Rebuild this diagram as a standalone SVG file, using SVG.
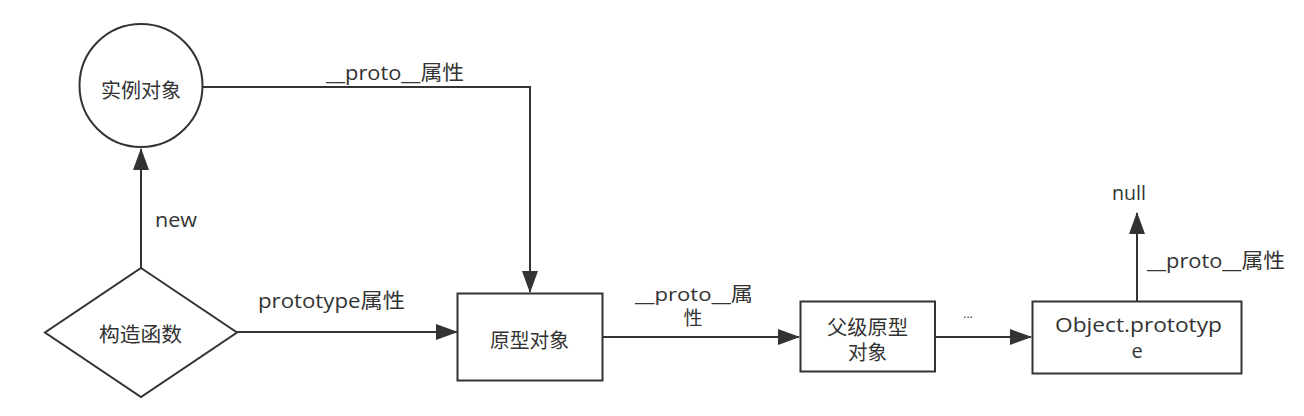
<svg xmlns="http://www.w3.org/2000/svg" width="1304" height="416" viewBox="0 0 1304 416">
<style>
.shape{fill:#fff;stroke:#333;stroke-width:2}
.edge{fill:none;stroke:#333;stroke-width:2}
text{font-family:"Open Sans","Noto Sans CJK SC",sans-serif;font-size:20px;fill:#333}
.c{text-anchor:middle}
</style>
<defs>
<marker id="arr" markerUnits="userSpaceOnUse" markerWidth="22" markerHeight="16" refX="21" refY="8" orient="auto">
<path d="M0,0 L22,8 L0,16 z" fill="#333"/>
</marker>
</defs>
<rect width="1304" height="416" fill="#fff"/>
<g id="connectors">
<path class="edge" d="M203,87 H530 V292" marker-end="url(#arr)"/>
<path class="edge" d="M141,268 V149" marker-end="url(#arr)"/>
<path class="edge" d="M237,332 H457" marker-end="url(#arr)"/>
<path class="edge" d="M603,337 H799" marker-end="url(#arr)"/>
<path class="edge" d="M935,337 H1031" marker-end="url(#arr)"/>
<path class="edge" d="M1137,302 V213" marker-end="url(#arr)"/>
<text x="326" y="79.5" textLength="138" lengthAdjust="spacingAndGlyphs">__proto__属性</text>
<text x="155" y="227" textLength="42" lengthAdjust="spacingAndGlyphs">new</text>
<text x="258" y="307.5" textLength="147" lengthAdjust="spacingAndGlyphs">prototype属性</text>
<text x="635" y="301" textLength="118" lengthAdjust="spacingAndGlyphs" style="font-size:19px">__proto__属</text>
<text x="693" y="325" class="c" style="font-size:19px">性</text>
<text x="968" y="318" class="c" style="font-size:12px">...</text>
<text x="1112" y="200" textLength="34" lengthAdjust="spacingAndGlyphs">null</text>
<text x="1147" y="267.5" textLength="138" lengthAdjust="spacingAndGlyphs">__proto__属性</text>
</g>
<g id="instance">
<circle class="shape" cx="141" cy="85.5" r="61.5"/>
<text x="101" y="97.5" textLength="80" lengthAdjust="spacingAndGlyphs">实例对象</text>
</g>
<g id="constructor">
<polygon class="shape" points="141,268 237,332.5 141,397 45,332.5"/>
<text x="99" y="341.5" textLength="83" lengthAdjust="spacingAndGlyphs">构造函数</text>
</g>
<g id="prototype">
<rect class="shape" x="457.5" y="293.5" width="145" height="87"/>
<text x="490" y="347.5" textLength="79" lengthAdjust="spacingAndGlyphs">原型对象</text>
</g>
<g id="parent">
<rect class="shape" x="800.5" y="301.5" width="134.5" height="70"/>
<text x="827" y="334.5" textLength="81" lengthAdjust="spacingAndGlyphs">父级原型</text>
<text x="848" y="359.5" textLength="39" lengthAdjust="spacingAndGlyphs">对象</text>
</g>
<g id="object">
<rect class="shape" x="1032.5" y="301.5" width="209" height="72"/>
<text x="1055" y="332" textLength="167" lengthAdjust="spacingAndGlyphs">Object.prototyp</text>
<text x="1137" y="358" class="c">e</text>
</g>
</svg>
